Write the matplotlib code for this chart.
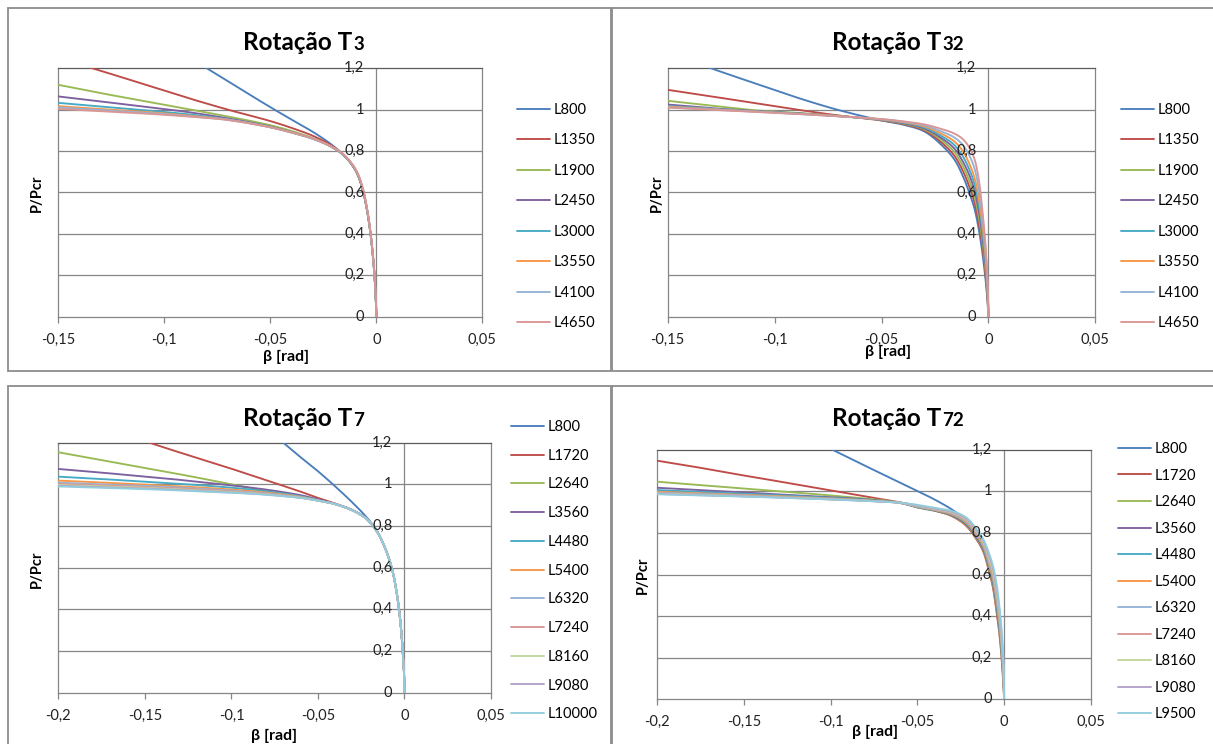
import numpy as np
import matplotlib
matplotlib.use("Agg")
import matplotlib.pyplot as plt
from matplotlib import transforms
from matplotlib.patches import Rectangle

plt.rcParams['font.family'] = ['Lato', 'DejaVu Sans']

W, H = 1213, 744

SERIES_COLORS = ['#4A7EBB', '#BE4B48', '#98B954', '#7D60A0', '#46AAC5', '#F79646',
                 '#95B3D7', '#D99694', '#C3D69B', '#B3A2C7', '#93CDDD']
GRID = '#868686'
FRAME = '#8C8C8C'

Y_TICKS = [0, 0.2, 0.4, 0.6, 0.8, 1.0, 1.2]
X_TICKS_A = [-0.15, -0.1, -0.05, 0, 0.05]
X_TICKS_B = [-0.2, -0.15, -0.1, -0.05, 0, 0.05]

# rotation beta [rad] sampled for the T3 / T32 families
BETA_A = [-0.15, -0.13, -0.11, -0.09, -0.07, -0.05, -0.04, -0.03, -0.022, -0.016,
          -0.012, -0.009, -0.0065, -0.0045, -0.003, -0.0018, -0.0009, -0.0003, 0.0]
# rotation beta [rad] sampled for the T7 / T72 families
BETA_B = [-0.2, -0.18, -0.16, -0.14, -0.12, -0.1, -0.08, -0.06, -0.05, -0.04, -0.03,
          -0.022, -0.016, -0.012, -0.009, -0.0065, -0.0045, -0.003, -0.0018, -0.0009,
          -0.0003, 0.0]

T3_LABELS = ['L800', 'L1350', 'L1900', 'L2450', 'L3000', 'L3550', 'L4100', 'L4650']
T3_P = [
    [1.64, 1.51, 1.386, 1.263, 1.137, 1.012, 0.952, 0.893, 0.838, 0.787, 0.742, 0.69, 0.615, 0.52, 0.42, 0.31, 0.2, 0.09, 0.0],
    [1.25, 1.188, 1.124, 1.06, 1.0, 0.945, 0.912, 0.874, 0.832, 0.787, 0.741, 0.69, 0.615, 0.52, 0.42, 0.31, 0.2, 0.09, 0.0],
    [1.12, 1.08, 1.043, 1.005, 0.967, 0.925, 0.897, 0.863, 0.826, 0.786, 0.74, 0.69, 0.615, 0.52, 0.42, 0.31, 0.2, 0.09, 0.0],
    [1.064, 1.04, 1.015, 0.99, 0.958, 0.918, 0.891, 0.86, 0.825, 0.785, 0.74, 0.69, 0.615, 0.52, 0.42, 0.31, 0.2, 0.09, 0.0],
    [1.033, 1.015, 0.998, 0.979, 0.954, 0.916, 0.89, 0.86, 0.825, 0.785, 0.741, 0.691, 0.617, 0.522, 0.421, 0.31, 0.2, 0.09, 0.0],
    [1.017, 1.003, 0.99, 0.973, 0.952, 0.915, 0.89, 0.86, 0.825, 0.786, 0.742, 0.693, 0.619, 0.524, 0.423, 0.312, 0.2, 0.09, 0.0],
    [1.011, 0.998, 0.986, 0.97, 0.951, 0.915, 0.89, 0.86, 0.826, 0.787, 0.743, 0.695, 0.622, 0.527, 0.425, 0.314, 0.202, 0.091, 0.0],
    [1.004, 0.993, 0.982, 0.968, 0.95, 0.915, 0.89, 0.861, 0.827, 0.789, 0.746, 0.698, 0.626, 0.53, 0.428, 0.316, 0.204, 0.092, 0.0],
]

T32_LABELS = ['L800', 'L1350', 'L1900', 'L2450', 'L3000', 'L3550', 'L4100', 'L4650']
T32_P = [
    [1.276, 1.201, 1.13, 1.06, 0.998, 0.948, 0.928, 0.895, 0.83, 0.76, 0.68, 0.6, 0.52, 0.42, 0.32, 0.22, 0.13, 0.05, 0.0],
    [1.096, 1.065, 1.033, 1.001, 0.972, 0.948, 0.931, 0.9, 0.842, 0.778, 0.705, 0.63, 0.55, 0.45, 0.35, 0.245, 0.15, 0.062, 0.0],
    [1.043, 1.02, 0.998, 0.985, 0.97, 0.95, 0.934, 0.905, 0.853, 0.796, 0.728, 0.657, 0.58, 0.48, 0.378, 0.27, 0.17, 0.075, 0.0],
    [1.025, 1.008, 0.994, 0.983, 0.969, 0.951, 0.936, 0.909, 0.863, 0.813, 0.75, 0.685, 0.61, 0.51, 0.405, 0.295, 0.19, 0.087, 0.0],
    [1.018, 1.005, 0.993, 0.982, 0.969, 0.952, 0.938, 0.914, 0.873, 0.83, 0.775, 0.712, 0.64, 0.54, 0.432, 0.32, 0.21, 0.1, 0.0],
    [1.015, 1.003, 0.992, 0.981, 0.969, 0.953, 0.94, 0.919, 0.884, 0.847, 0.8, 0.74, 0.67, 0.57, 0.46, 0.345, 0.23, 0.11, 0.0],
    [1.012, 1.001, 0.991, 0.98, 0.968, 0.954, 0.942, 0.924, 0.895, 0.866, 0.83, 0.78, 0.715, 0.615, 0.495, 0.372, 0.25, 0.12, 0.0],
    [1.01, 1.0, 0.99, 0.98, 0.968, 0.955, 0.944, 0.929, 0.907, 0.885, 0.858, 0.818, 0.76, 0.66, 0.53, 0.4, 0.27, 0.13, 0.0],
]

T7_LABELS = ['L800', 'L1720', 'L2640', 'L3560', 'L4480', 'L5400', 'L6320', 'L7240',
             'L8160', 'L9080', 'L10000']
T7_P = [
    [2.0, 1.9, 1.78, 1.66, 1.54, 1.41, 1.27, 1.13, 1.063, 0.99, 0.912, 0.843, 0.778, 0.71, 0.645, 0.57, 0.48, 0.39, 0.29, 0.185, 0.1, 0.0],
    [1.34, 1.29, 1.235, 1.18, 1.127, 1.075, 1.02, 0.965, 0.935, 0.908, 0.877, 0.836, 0.775, 0.71, 0.645, 0.57, 0.48, 0.39, 0.29, 0.185, 0.1, 0.0],
    [1.154, 1.124, 1.094, 1.064, 1.033, 1.0, 0.968, 0.937, 0.923, 0.905, 0.875, 0.835, 0.775, 0.71, 0.645, 0.57, 0.48, 0.39, 0.29, 0.185, 0.1, 0.0],
    [1.074, 1.06, 1.045, 1.03, 1.013, 0.995, 0.975, 0.948, 0.928, 0.906, 0.875, 0.835, 0.775, 0.71, 0.645, 0.57, 0.48, 0.39, 0.29, 0.185, 0.1, 0.0],
    [1.037, 1.028, 1.018, 1.008, 0.997, 0.984, 0.967, 0.943, 0.925, 0.905, 0.875, 0.835, 0.775, 0.71, 0.645, 0.57, 0.48, 0.39, 0.29, 0.185, 0.1, 0.0],
    [1.018, 1.011, 1.003, 0.995, 0.986, 0.975, 0.961, 0.94, 0.923, 0.905, 0.875, 0.835, 0.775, 0.71, 0.645, 0.57, 0.48, 0.39, 0.29, 0.185, 0.1, 0.0],
    [1.008, 1.002, 0.996, 0.989, 0.98, 0.97, 0.957, 0.938, 0.922, 0.905, 0.875, 0.835, 0.775, 0.71, 0.645, 0.57, 0.48, 0.39, 0.29, 0.185, 0.1, 0.0],
    [1.002, 0.997, 0.991, 0.984, 0.976, 0.966, 0.955, 0.937, 0.922, 0.905, 0.875, 0.835, 0.775, 0.71, 0.645, 0.57, 0.48, 0.39, 0.29, 0.185, 0.1, 0.0],
    [0.997, 0.992, 0.987, 0.98, 0.972, 0.963, 0.953, 0.936, 0.922, 0.905, 0.875, 0.835, 0.775, 0.71, 0.645, 0.57, 0.48, 0.39, 0.29, 0.185, 0.1, 0.0],
    [0.993, 0.988, 0.983, 0.977, 0.969, 0.961, 0.951, 0.935, 0.922, 0.905, 0.875, 0.835, 0.775, 0.71, 0.645, 0.57, 0.48, 0.39, 0.29, 0.185, 0.1, 0.0],
    [0.99, 0.985, 0.98, 0.974, 0.967, 0.96, 0.95, 0.935, 0.922, 0.905, 0.875, 0.835, 0.775, 0.71, 0.645, 0.57, 0.48, 0.39, 0.29, 0.185, 0.1, 0.0],
]

T72_LABELS = ['L800', 'L1720', 'L2640', 'L3560', 'L4480', 'L5400', 'L6320', 'L7240',
              'L8160', 'L9080', 'L9500']
T72_P = [
    [1.61, 1.53, 1.45, 1.365, 1.285, 1.204, 1.122, 1.042, 1.002, 0.96, 0.912, 0.862, 0.791, 0.735, 0.659, 0.584, 0.484, 0.391, 0.291, 0.188, 0.104, 0.0],
    [1.147, 1.12, 1.09, 1.062, 1.033, 1.004, 0.975, 0.947, 0.93, 0.908, 0.88, 0.835, 0.77, 0.71, 0.625, 0.54, 0.43, 0.335, 0.235, 0.135, 0.06, 0.0],
    [1.046, 1.033, 1.02, 1.007, 0.994, 0.98, 0.965, 0.945, 0.922, 0.906, 0.882, 0.839, 0.775, 0.716, 0.633, 0.551, 0.443, 0.349, 0.249, 0.148, 0.071, 0.0],
    [1.017, 1.008, 0.999, 0.99, 0.981, 0.972, 0.961, 0.944, 0.923, 0.907, 0.884, 0.843, 0.78, 0.722, 0.642, 0.562, 0.457, 0.363, 0.263, 0.161, 0.082, 0.0],
    [1.006, 0.999, 0.992, 0.985, 0.977, 0.969, 0.959, 0.944, 0.924, 0.909, 0.887, 0.847, 0.786, 0.729, 0.651, 0.573, 0.47, 0.377, 0.277, 0.175, 0.093, 0.0],
    [0.998, 0.992, 0.986, 0.98, 0.973, 0.966, 0.957, 0.944, 0.926, 0.91, 0.889, 0.851, 0.791, 0.735, 0.659, 0.584, 0.484, 0.391, 0.291, 0.188, 0.104, 0.0],
    [0.994, 0.989, 0.983, 0.977, 0.971, 0.964, 0.956, 0.944, 0.927, 0.912, 0.892, 0.855, 0.797, 0.741, 0.668, 0.595, 0.497, 0.405, 0.305, 0.202, 0.115, 0.0],
    [0.991, 0.986, 0.981, 0.975, 0.969, 0.963, 0.955, 0.944, 0.929, 0.914, 0.895, 0.859, 0.802, 0.748, 0.676, 0.606, 0.511, 0.419, 0.319, 0.216, 0.126, 0.0],
    [0.989, 0.984, 0.979, 0.974, 0.968, 0.962, 0.955, 0.945, 0.93, 0.915, 0.898, 0.864, 0.808, 0.754, 0.685, 0.617, 0.524, 0.433, 0.333, 0.229, 0.137, 0.0],
    [0.987, 0.982, 0.978, 0.973, 0.967, 0.961, 0.954, 0.945, 0.932, 0.917, 0.901, 0.869, 0.814, 0.762, 0.697, 0.631, 0.543, 0.451, 0.351, 0.249, 0.152, 0.0],
    [0.986, 0.981, 0.977, 0.972, 0.967, 0.961, 0.954, 0.945, 0.935, 0.92, 0.905, 0.875, 0.82, 0.77, 0.71, 0.645, 0.565, 0.47, 0.37, 0.27, 0.17, 0.0],
]

PANELS = [
    dict(title='Rotação T', sub='3', labels=T3_LABELS, beta=BETA_A, p=T3_P, xticks=X_TICKS_A,
         frame=(8, 8, 611, 371), plot=(58.4, 68.3, 482.4, 316.7), title_xy=(352, 50),
         legend_xy=(517, 103), spacing=1.13, ylab=(37, 193), xlab=(286, 357)),
    dict(title='Rotação T', sub='32', labels=T32_LABELS, beta=BETA_A, p=T32_P, xticks=X_TICKS_A,
         frame=(612, 8, 1225, 371), plot=(667.7, 68.3, 1095.4, 316.7), title_xy=(941, 50),
         legend_xy=(1121, 103), spacing=1.13, ylab=(657, 193), xlab=(888, 352)),
    dict(title='Rotação T', sub='7', labels=T7_LABELS, beta=BETA_B, p=T7_P, xticks=X_TICKS_B,
         frame=(8, 386, 611, 760), plot=(58.4, 442.7, 491.0, 692.7), title_xy=(352, 426),
         legend_xy=(511, 420), spacing=1.01, ylab=(37, 569), xlab=(274, 736)),
    dict(title='Rotação T', sub='72', labels=T72_LABELS, beta=BETA_B, p=T72_P, xticks=X_TICKS_B,
         frame=(612, 386, 1225, 760), plot=(657.3, 449.7, 1090.8, 699.3), title_xy=(941, 426),
         legend_xy=(1118, 442), spacing=0.86, ylab=(643, 575), xlab=(875, 732)),
]


def fmt(v):
    return f"{v:g}".replace('.', ',')


def fx(x):
    return x / W


def fy(y):
    return 1 - y / H


def smoothed(xs, ys, sx, sy, n=16):
    """Smoothed line through the points (centripetal Catmull-Rom, as a spreadsheet
    'smoothed line' would draw it), evaluated in screen-scaled units."""
    P = np.column_stack([np.asarray(xs) * sx, np.asarray(ys) * sy])
    P = np.vstack([2 * P[0] - P[1], P, 2 * P[-1] - P[-2]])
    out = []
    for i in range(1, len(P) - 2):
        p0, p1, p2, p3 = P[i - 1], P[i], P[i + 1], P[i + 2]
        t0 = 0.0
        t1 = t0 + max(np.linalg.norm(p1 - p0), 1e-9) ** 0.5
        t2 = t1 + max(np.linalg.norm(p2 - p1), 1e-9) ** 0.5
        t3 = t2 + max(np.linalg.norm(p3 - p2), 1e-9) ** 0.5
        t = np.linspace(t1, t2, n, endpoint=False)[:, None]
        a1 = (t1 - t) / (t1 - t0) * p0 + (t - t0) / (t1 - t0) * p1
        a2 = (t2 - t) / (t2 - t1) * p1 + (t - t1) / (t2 - t1) * p2
        a3 = (t3 - t) / (t3 - t2) * p2 + (t - t2) / (t3 - t2) * p3
        b1 = (t2 - t) / (t2 - t0) * a1 + (t - t0) / (t2 - t0) * a2
        b2 = (t3 - t) / (t3 - t1) * a2 + (t - t1) / (t3 - t1) * a3
        c = (t2 - t) / (t2 - t1) * b1 + (t - t1) / (t2 - t1) * b2
        out.append(c)
    out.append(P[-2][None, :])
    C = np.vstack(out)
    return C[:, 0] / sx, C[:, 1] / sy


fig = plt.figure(figsize=(W / 100, H / 100), dpi=100)
fig.patch.set_facecolor('white')

for spec in PANELS:
    l, t, r, b = spec['frame']
    fig.patches.append(Rectangle((fx(l), fy(b)), fx(r - l), (b - t) / H,
                                 transform=fig.transFigure, fill=False,
                                 edgecolor=FRAME, linewidth=1.3, zorder=0))

    l, t, r, b = spec['plot']
    ax = fig.add_axes([fx(l), fy(b), fx(r - l), (b - t) / H])
    ax.set_facecolor('none')
    xspan = spec['xticks'][-1] - spec['xticks'][0]
    sx = (r - l) / xspan
    sy = (b - t) / 1.2
    for i, (lab, p) in enumerate(zip(spec['labels'], spec['p'])):
        cx, cy = smoothed(spec['beta'], p, sx, sy)
        ax.plot(cx, cy, color=SERIES_COLORS[i], lw=1.35, label=lab,
                solid_joinstyle='round', solid_capstyle='round', zorder=3)
    ax.set_xlim(spec['xticks'][0], spec['xticks'][-1])
    ax.set_ylim(0, 1.2)

    for yv in Y_TICKS[1:-1]:
        ax.axhline(yv, color=GRID, lw=0.9, zorder=1)
    ax.axvline(0, color=GRID, lw=0.9, zorder=1)
    for side in ['left', 'right', 'bottom']:
        ax.spines[side].set_color(GRID)
        ax.spines[side].set_linewidth(0.9)
    ax.spines['top'].set_color('#5A5A5A')
    ax.spines['top'].set_linewidth(0.9)

    ax.set_yticks([])
    ax.set_xticks(spec['xticks'])
    ax.set_xticklabels([])
    ax.tick_params(axis='x', direction='out', length=4, width=0.9, color=GRID)

    ytrans = transforms.offset_copy(ax.transData, fig=fig, x=-12, y=0, units='dots')
    for yv in Y_TICKS:
        ax.text(0, yv, fmt(yv), transform=ytrans, ha='right', va='center',
                fontsize=10.5, color='#222222', zorder=5, clip_on=False)
    xtrans = transforms.offset_copy(ax.get_xaxis_transform(), fig=fig, x=0, y=-23, units='dots')
    for xv in spec['xticks']:
        ax.text(xv, 0, fmt(xv), transform=xtrans, ha='center', va='center',
                fontsize=10.5, color='#222222', clip_on=False)

    lx, ly = spec['legend_xy']
    ax.legend(loc='upper left', bbox_to_anchor=(fx(lx), fy(ly)), bbox_transform=fig.transFigure,
              frameon=False, fontsize=10.5, handlelength=2.25, handletextpad=0.25,
              labelspacing=spec['spacing'], borderpad=0, borderaxespad=0)

    tx, ty = spec['title_xy']
    fig.text(fx(tx), fy(ty), spec['title'], ha='right', va='baseline',
             fontsize=17.5, fontweight='bold', color='black')
    fig.text(fx(tx) + 0.0008, fy(ty), spec['sub'], ha='left', va='baseline',
             fontsize=13.5, fontweight='bold', color='black')

    px, py = spec['ylab']
    fig.text(fx(px), fy(py), 'P/Pcr', rotation=90, ha='center', va='center',
             fontsize=10.5, fontweight='bold')
    bx, by = spec['xlab']
    fig.text(fx(bx), fy(by), 'β [rad]', ha='center', va='center',
             fontsize=11.5, fontweight='bold')

fig.savefig('out.png', dpi=100, facecolor='white')
